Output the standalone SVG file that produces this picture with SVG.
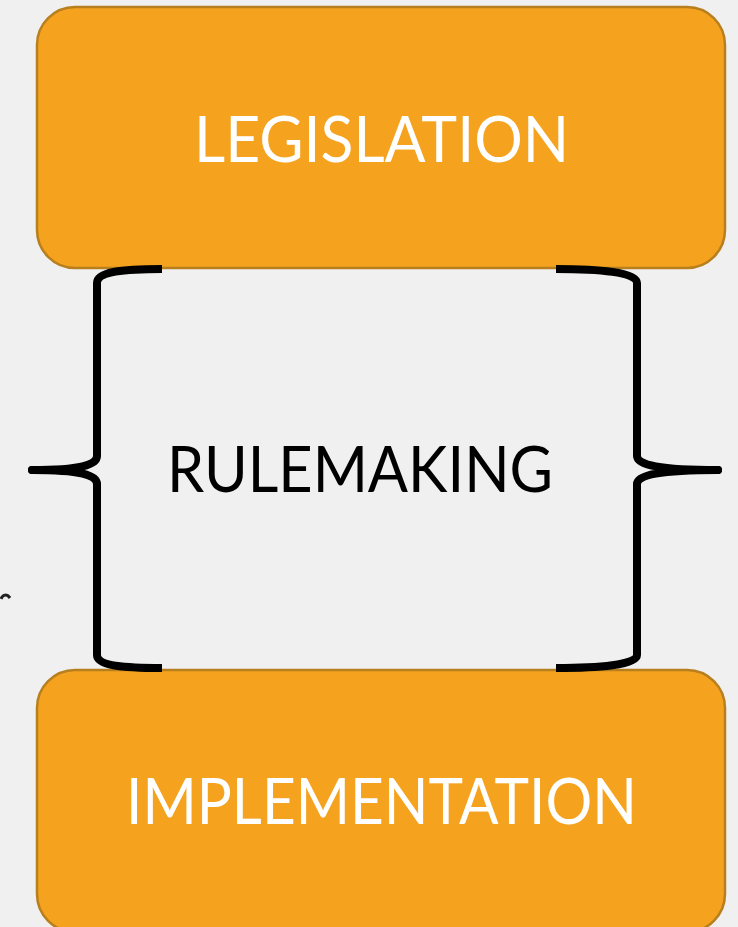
<svg xmlns="http://www.w3.org/2000/svg" width="738" height="927" viewBox="0 0 738 927">
<style>
.box{fill:#F5A31F;stroke:#B87F1E;stroke-width:2.5}
.lbl{font-family:Lato,"Open Sans","Liberation Sans",sans-serif;font-size:63px}
.brace{fill:none;stroke:#000;stroke-width:8;stroke-linejoin:round}
</style>
<rect width="738" height="927" fill="#F0F0F0"/>
<g id="legislation">
<rect class="box" x="37" y="7" width="688" height="261" rx="38"/>
<text class="lbl" x="194" y="162" fill="#FFFFFF" textLength="375" lengthAdjust="spacingAndGlyphs">LEGISLATION</text>
</g>
<g id="implementation">
<rect class="box" x="37" y="670" width="688" height="262" rx="38"/>
<text class="lbl" x="126" y="824" fill="#FFFFFF" textLength="511" lengthAdjust="spacingAndGlyphs">IMPLEMENTATION</text>
</g>
<g id="rulemaking">
<text class="lbl" x="167" y="492" fill="#000000" textLength="386" lengthAdjust="spacingAndGlyphs">RULEMAKING</text>
</g>
<g id="connectors">
<path class="brace" d="M162,269 C120,269 97,272 97,283 L97,456 C97,465 80,470 32,470 C80,470 97,475 97,484 L97,655 C97,665 120,668 162,668"/>
<circle cx="32" cy="470" r="4"/>
<path class="brace" d="M556,269 C598,269 637,272 637,283 L637,456 C637,465 660,470 718,470 C660,470 637,475 637,484 L637,655 C637,665 598,668 556,668"/>
<circle cx="718" cy="470" r="4"/>
<path d="M1,599 C3,594 7,594 10,598" fill="none" stroke="#222" stroke-width="3"/>
</g>
</svg>
